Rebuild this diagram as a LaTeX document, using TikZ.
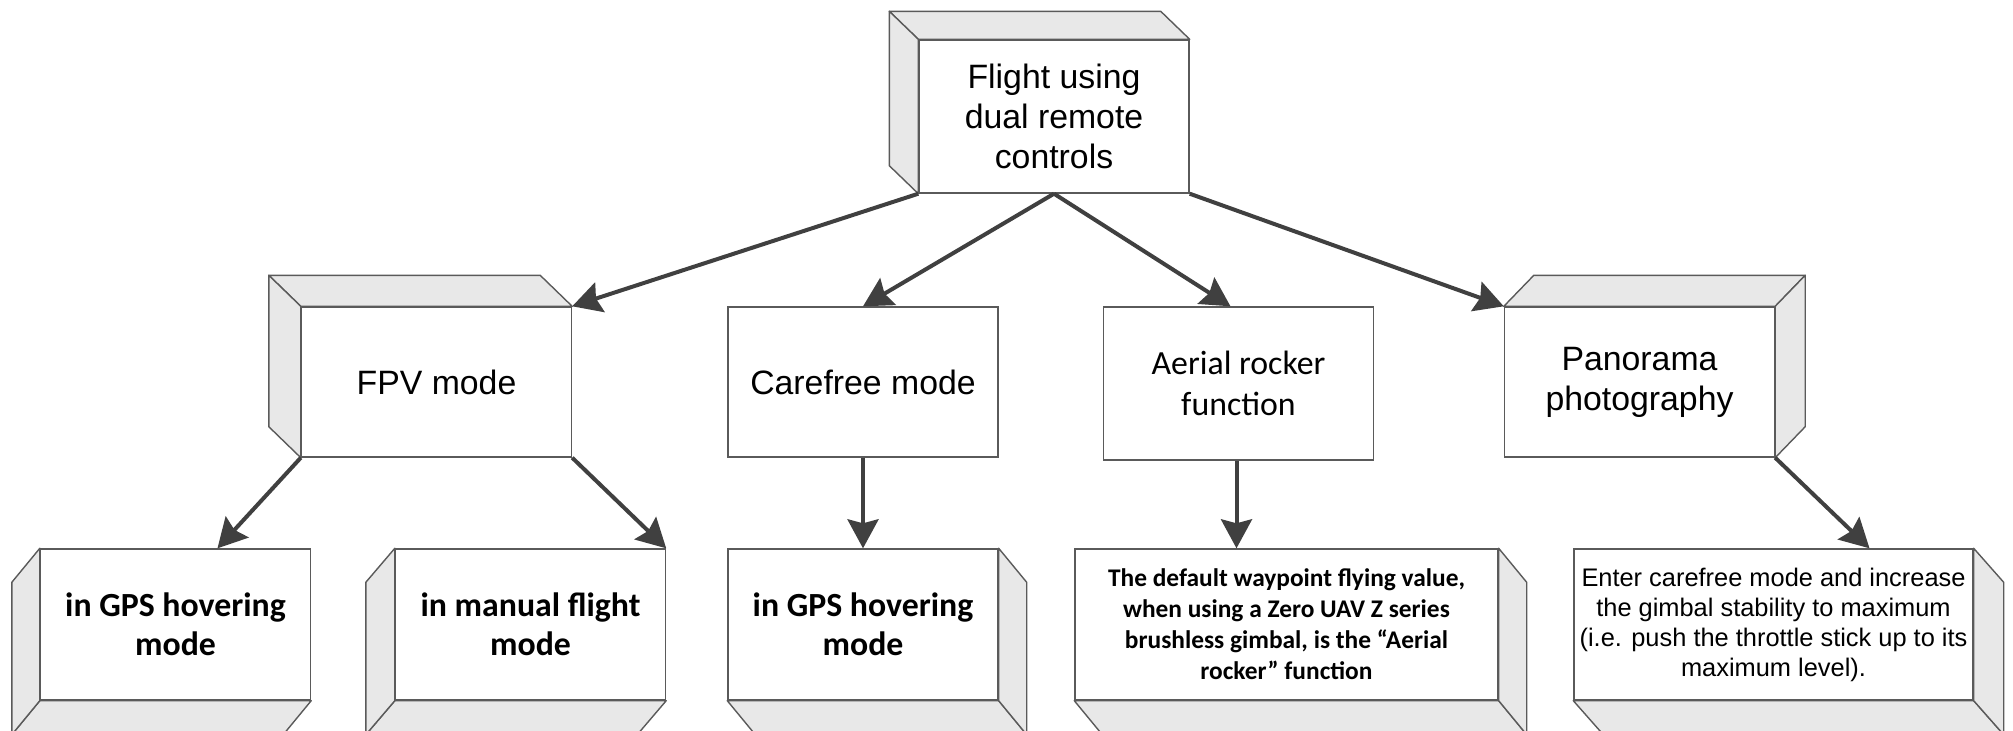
\documentclass[tikz,border=0pt]{standalone}
\usepackage{fontspec}
\setmainfont{Liberation Sans}
\newfontfamily\calibri{Carlito}
\usetikzlibrary{arrows.meta}

\definecolor{linegray}{HTML}{404040}
\definecolor{edgegray}{HTML}{5A5A5A}
\definecolor{sidegray}{HTML}{E8E8E8}

\tikzstyle{block} = [rectangle, minimum width=135pt, minimum height=75pt, inner sep=0pt, text centered, align=center, draw=edgegray, line width=0.7pt, fill=white]
\tikzstyle{side} = [draw=edgegray, line width=0.7pt, fill=sidegray, line join=round]
\tikzstyle{arrow} = [draw=linegray, line width=2pt, -{Stealth[length=14.5pt, width=15.5pt, inset=2pt]}]
\tikzstyle{arialbig} = [font=\fontsize{16.9}{20}\selectfont]
\tikzstyle{calibribig} = [font=\calibri\fontsize{16.9}{20.7}\selectfont]
\tikzstyle{calibribold} = [font=\calibri\bfseries\fontsize{16.9}{19.3}\selectfont]
\tikzstyle{calibrismall} = [font=\calibri\bfseries\fontsize{12.7}{15.5}\selectfont]
\tikzstyle{arialsmall} = [font=\fontsize{12.7}{15}\selectfont]

\newcommand{\face}[3]{\draw[side] (#1) -- (#2) -- ([shift={#3}]#2) -- ([shift={#3}]#1) -- cycle;}

\begin{document}
\begin{tikzpicture}[x=0.5pt, y=-0.5pt]

    \useasboundingbox (0,0) rectangle (2013,730);
    \clip (0,0) rectangle (2013,730);

    \node (flight) [block, arialbig, minimum height=76.5pt] at (1054,116.5) {Flight using\\dual remote\\controls};
    \node (fpvMode) [block, arialbig] at (436.5,382) {FPV mode};
    \node (carefreeMode) [block, arialbig] at (863,382) {Carefree mode};
    \node (aerialRocker) [block, calibribig, minimum height=76.5pt] at (1238.5,383.5) {Aerial rocker\\function};
    \node (panorama) [block, arialbig] at (1639.5,382) {Panorama\\photography};

    \node (gpsHoverA) [block, calibribold, minimum height=75.5pt] at (175.5,624.5) {in GPS hovering\\mode};
    \node (manualFlight) [block, calibribold, minimum height=75.5pt] at (530.5,624.5) {in manual flight\\mode};
    \node (gpsHoverB) [block, calibribold, minimum height=75.5pt] at (863,624.5) {in GPS hovering\\mode};
    \node (waypoint) [block, calibrismall, minimum width=211.5pt, minimum height=75.5pt] at (1286.5,624.5) {The default waypoint flying value,\\when using a Zero UAV Z series\\brushless gimbal, is the “Aerial\\rocker” function};
    \node (carefreeMax) [block, arialsmall, minimum width=199.5pt, minimum height=75.5pt] at (1773.5,624.5) {Enter carefree mode and increase\\the gimbal stability to maximum\\(i.e. push the throttle stick up to its\\maximum level).};

    \face{flight.north west}{flight.north east}{(-29,-28)}
    \face{flight.north west}{flight.south west}{(-29,-28)}
    \face{fpvMode.north west}{fpvMode.north east}{(-32,-31)}
    \face{fpvMode.north west}{fpvMode.south west}{(-32,-31)}
    \face{panorama.north west}{panorama.north east}{(30,-31)}
    \face{panorama.north east}{panorama.south east}{(30,-31)}

    \face{gpsHoverA.south west}{gpsHoverA.south east}{(-28,34)}
    \face{gpsHoverA.north west}{gpsHoverA.south west}{(-28,34)}
    \face{manualFlight.south west}{manualFlight.south east}{(-29,34)}
    \face{manualFlight.north west}{manualFlight.south west}{(-29,34)}
    \face{gpsHoverB.south west}{gpsHoverB.south east}{(28,34)}
    \face{gpsHoverB.north east}{gpsHoverB.south east}{(28,34)}
    \face{waypoint.south west}{waypoint.south east}{(28,34)}
    \face{waypoint.north east}{waypoint.south east}{(28,34)}
    \face{carefreeMax.south west}{carefreeMax.south east}{(30,34)}
    \face{carefreeMax.north east}{carefreeMax.south east}{(30,34)}

    \draw [arrow] (flight.south west) -- (fpvMode.north east);
    \draw [arrow] (flight.south) -- (carefreeMode.north);
    \draw [arrow] (flight.south) -- ([xshift=-4pt]aerialRocker.north);
    \draw [arrow] (flight.south east) -- (panorama.north west);

    \draw [arrow] (fpvMode.south west) -- ([xshift=21pt]gpsHoverA.north);
    \draw [arrow] (fpvMode.south east) -- (manualFlight.north east);
    \draw [arrow] (carefreeMode.south) -- (gpsHoverB.north);
    \draw [arrow] ([xshift=-1pt]aerialRocker.south) -- ([xshift=-1pt]aerialRocker.south |- waypoint.north);
    \draw [arrow] (panorama.south east) -- ([xshift=48pt]carefreeMax.north);

\end{tikzpicture}
\end{document}
